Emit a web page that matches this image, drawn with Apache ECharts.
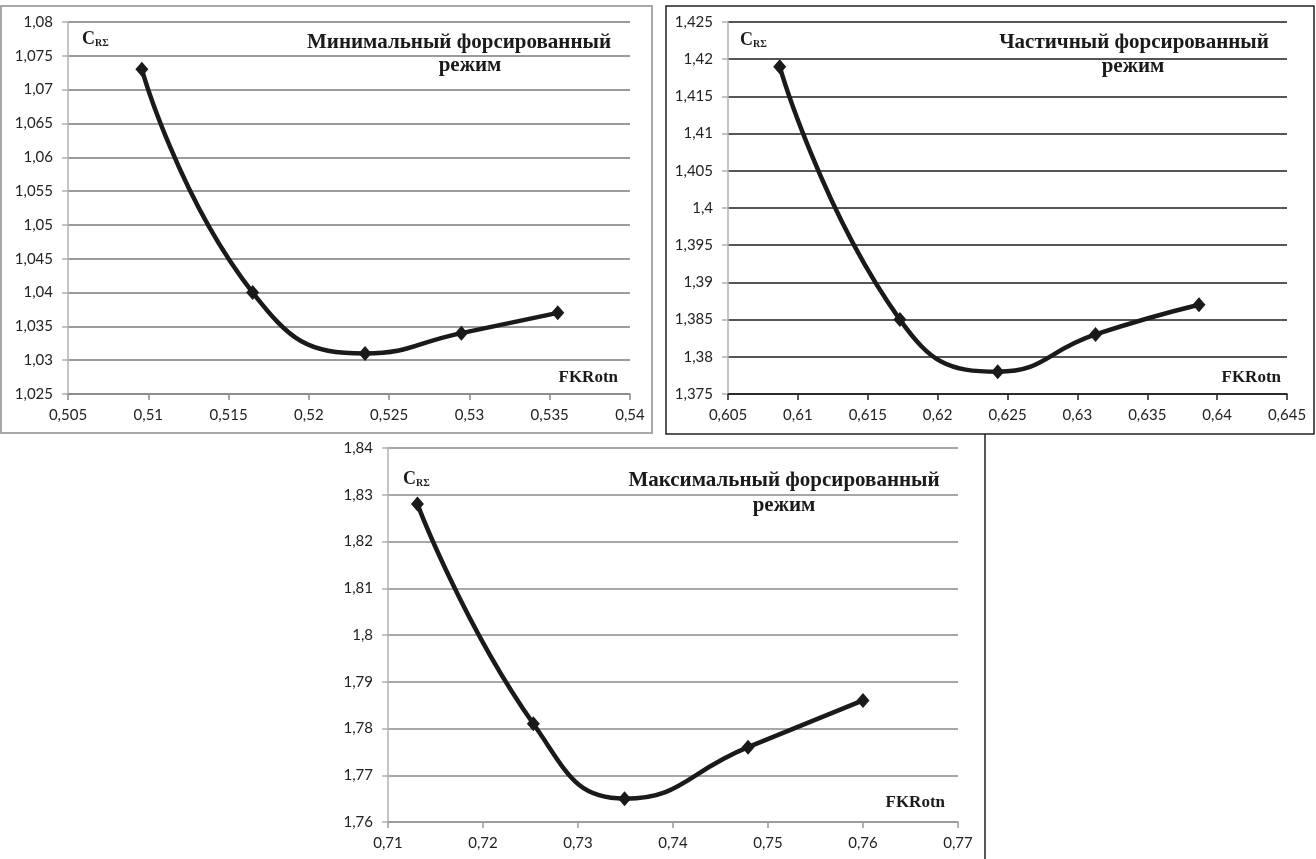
<!DOCTYPE html>
<html><head><meta charset="utf-8">
<script src="https://cdn.jsdelivr.net/npm/echarts@6/dist/echarts.min.js"></script>
<style>html,body{margin:0;padding:0;background:#fff}#c{width:1316px;height:859px}</style>
</head><body><div id="c"></div>
<script>
// Panel 1: minimal forced mode
const x1 = [0.5096, 0.5165, 0.5235, 0.5295, 0.5355];
const y1 = [1.073, 1.040, 1.031, 1.034, 1.037];
// Panel 2: partial forced mode
const x2 = [0.6087, 0.6173, 0.6243, 0.6313, 0.6387];
const y2 = [1.419, 1.385, 1.378, 1.383, 1.387];
// Panel 3: maximal forced mode
const x3 = [0.7131, 0.7253, 0.7349, 0.7479, 0.7600];
const y3 = [1.828, 1.781, 1.765, 1.776, 1.786];

const titleLine1 = ['Минимальный форсированный', 'Частичный форсированный', 'Максимальный форсированный'];
const titleLine2 = ['режим', 'режим', 'режим'];
const yLabel = 'C';
const ySub = 'RΣ';
const xLabel = 'FKRotn';

const fmt = v => String(Number(v.toFixed(4))).replace('.', ',');
const lblFont = 'Lato, "Liberation Sans", sans-serif';
const serif = '"Liberation Serif", "DejaVu Serif", serif';

const grids = [
  {left: 68, top: 22, width: 562, height: 372},
  {left: 728, top: 22, width: 559, height: 372},
  {left: 388, top: 448, width: 570, height: 374}
];
const xr = [[0.505, 0.54, 0.005], [0.605, 0.645, 0.005], [0.71, 0.77, 0.01]];
const yr = [[1.025, 1.08, 0.005], [1.375, 1.425, 0.005], [1.76, 1.84, 0.01]];
const gridCol = ['#7a7a7a', '#1e1e1e', '#8a8a8a'];
const xAxisCol = ['#8a8a8a', '#1e1e1e', '#9a9a9a'];

function mkX(i) {
  return {type: 'value', gridIndex: i, min: xr[i][0], max: xr[i][1], interval: xr[i][2],
    axisLine: {show: true, lineStyle: {color: xAxisCol[i], width: 1.5}},
    axisTick: {show: true, length: 6, lineStyle: {color: xAxisCol[i], width: 1.5}},
    splitLine: {show: false},
    axisLabel: {formatter: fmt, color: '#222', fontSize: 15, fontFamily: lblFont, margin: 14, showMinLabel: true, showMaxLabel: true}};
}
function mkY(i) {
  return {type: 'value', gridIndex: i, min: yr[i][0], max: yr[i][1], interval: yr[i][2],
    axisLine: {show: true, lineStyle: {color: '#b0b0b0', width: 1.5}},
    axisTick: {show: true, length: 6, lineStyle: {color: '#b0b0b0', width: 1.5}},
    splitLine: {show: true, lineStyle: {color: gridCol[i], width: 1.5}},
    axisLabel: {formatter: fmt, color: '#222', fontSize: 15, fontFamily: lblFont, margin: 15, showMinLabel: true, showMaxLabel: true}};
}
function mkS(i, xs, ys) {
  return {type: 'line', xAxisIndex: i, yAxisIndex: i, smooth: 0.5,
    data: xs.map((x, k) => [x, ys[k]]),
    symbol: 'diamond', symbolSize: [13, 15],
    itemStyle: {color: '#1a1a1a'},
    lineStyle: {color: '#1a1a1a', width: 4.5},
    z: 5};
}

const line1Pos = [[459, 43], [1134, 43], [784, 481]];
const line2Pos = [[470, 66], [1133, 67], [784, 506]];
const cLabelPos = [[82, 30], [740, 31], [403, 470]];
const fkPos = [[618, 378], [1281, 378], [945, 803]];

const graphic = [
  {type: 'rect', shape: {x: 1, y: 6, width: 651, height: 427}, style: {fill: 'none', stroke: '#a8a8a8', lineWidth: 2}, silent: true},
  {type: 'rect', shape: {x: 666, y: 6, width: 648, height: 428}, style: {fill: 'none', stroke: '#222', lineWidth: 1.5}, silent: true},
  {type: 'line', shape: {x1: 985, y1: 434, x2: 985, y2: 859}, style: {stroke: '#222', lineWidth: 1.5}, silent: true}
];
for (let i = 0; i < 3; i++) {
  graphic.push({type: 'text', x: line1Pos[i][0], y: line1Pos[i][1], z: 10,
    style: {text: titleLine1[i], fill: '#1a1a1a', font: 'bold 21px ' + serif, textAlign: 'center', textVerticalAlign: 'middle'}});
  graphic.push({type: 'text', x: line2Pos[i][0], y: line2Pos[i][1], z: 10,
    style: {text: titleLine2[i], fill: '#1a1a1a', font: 'bold 21px ' + serif, textAlign: 'center', textVerticalAlign: 'middle'}});
  graphic.push({type: 'text', x: cLabelPos[i][0], y: cLabelPos[i][1], z: 10,
    style: {text: '{a|' + yLabel + '}{b|' + ySub + '}', rich: {
      a: {font: 'bold 18px ' + serif, fill: '#1a1a1a'},
      b: {font: 'bold 10px ' + serif, fill: '#1a1a1a', verticalAlign: 'bottom'}
    }}});
  graphic.push({type: 'text', x: fkPos[i][0], y: fkPos[i][1], z: 10,
    style: {text: xLabel, fill: '#1a1a1a', font: 'bold 17px ' + serif, textAlign: 'right', textVerticalAlign: 'middle'}});
}

const chart = echarts.init(document.getElementById('c'), null, {renderer: 'canvas'});
chart.setOption({
  animation: false,
  backgroundColor: '#fff',
  grid: grids,
  xAxis: [mkX(0), mkX(1), mkX(2)],
  yAxis: [mkY(0), mkY(1), mkY(2)],
  series: [mkS(0, x1, y1), mkS(1, x2, y2), mkS(2, x3, y3)],
  graphic: graphic
});
</script></body></html>
